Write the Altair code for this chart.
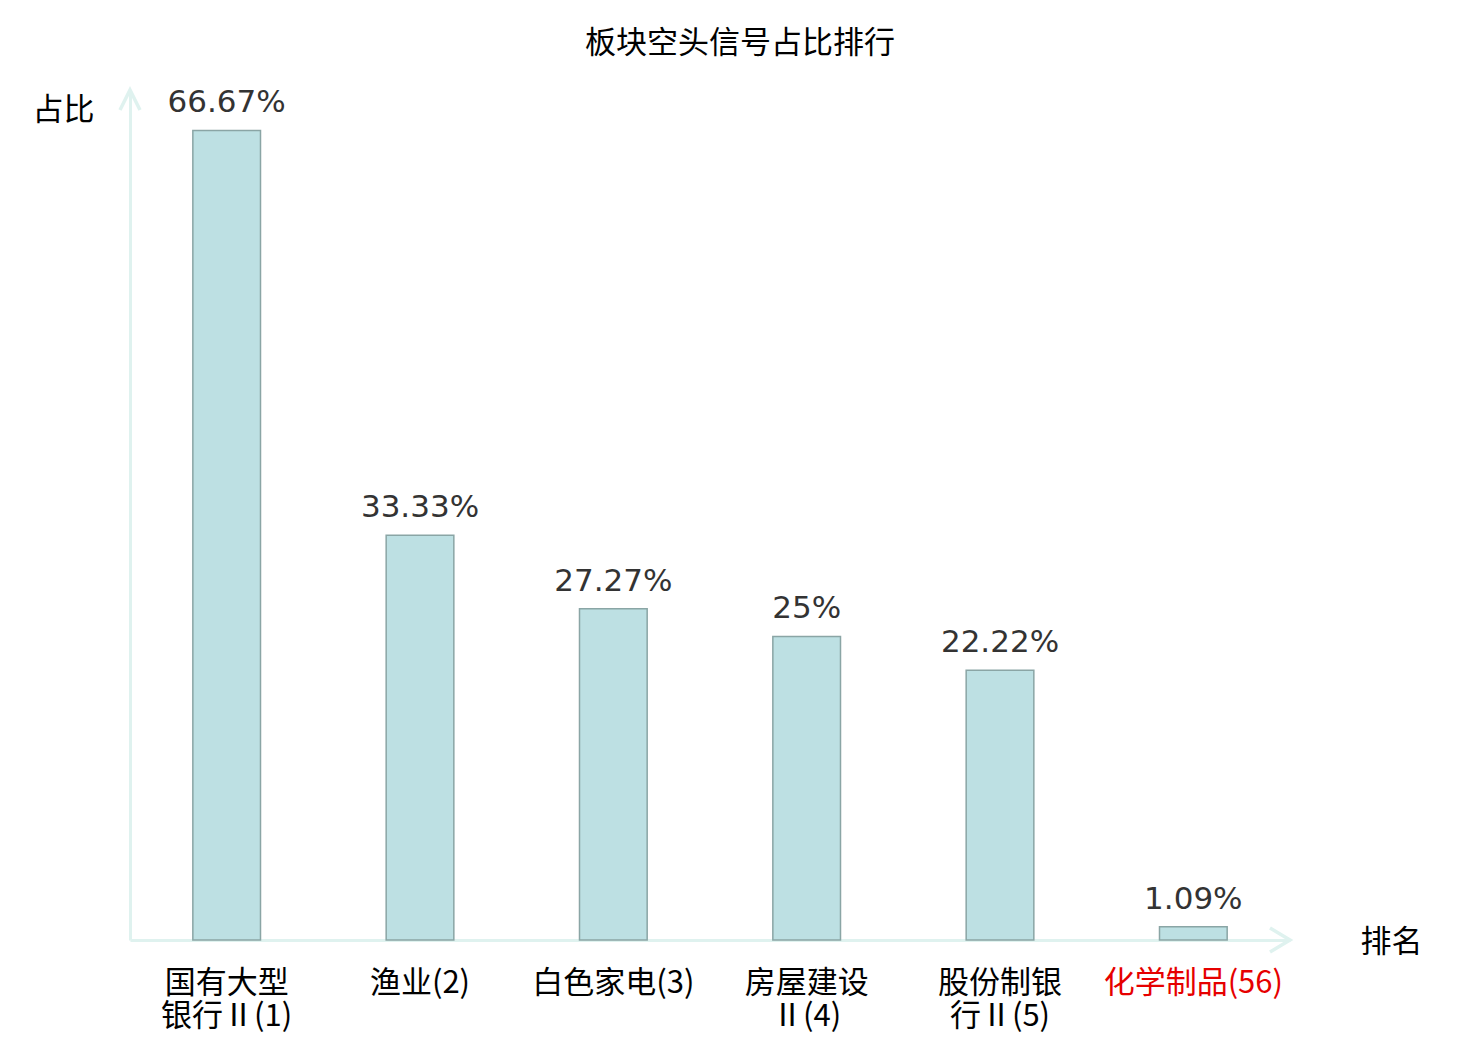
import altair as alt
import pandas as pd

categories = ["国有大型\n银行Ⅱ(1)", "渔业(2)", "白色家电(3)", "房屋建设\nⅡ(4)", "股份制银\n行Ⅱ(5)", "化学制品(56)"]
values = [66.67, 33.33, 27.27, 25.0, 22.22, 1.09]
value_labels = ["66.67%", "33.33%", "27.27%", "25%", "22.22%", "1.09%"]
highlight = "化学制品(56)"

df = pd.DataFrame({"cat": categories, "val": values, "lab": value_labels})

AXIS_COLOR = "#dff2ef"
CJK = "Noto Sans CJK SC"

x_enc = alt.X(
    "cat:N",
    sort=categories,
    scale=alt.Scale(paddingInner=0.65, paddingOuter=0.325),
    axis=alt.Axis(
        title="排名",
        titleFont=CJK,
        titleFontSize=31,
        titleFontWeight="normal",
        titleColor="#000000",
        titleAngle=0,
        titleAlign="center",
        titleBaseline="middle",
        titleX=1261,
        titleY=2,
        labelAngle=0,
        labelFont=CJK,
        labelFontSize=31,
        labelLineHeight=33,
        labelPadding=28,
        labelBaseline="top",
        labelExpr="split(datum.label, '\\n')",
        labelColor=alt.ExprRef(expr=f"datum.value == '{highlight}' ? '#e60000' : '#000000'"),
        ticks=False,
        domainColor=AXIS_COLOR,
        domainWidth=3,
        grid=False,
    ),
)

y_enc = alt.Y(
    "val:Q",
    scale=alt.Scale(domain=[0, 70], nice=False),
    axis=alt.Axis(
        title="占比",
        titleFont=CJK,
        titleFontSize=31,
        titleFontWeight="normal",
        titleColor="#000000",
        titleAngle=0,
        titleAlign="center",
        titleBaseline="middle",
        titleX=-67,
        titleY=20,
        labels=False,
        ticks=False,
        grid=False,
        domainColor=AXIS_COLOR,
        domainWidth=3,
    ),
)

base = alt.Chart(df)

bars = base.mark_bar(fill="#bde0e3", stroke="#8aa5a5", strokeWidth=1.5).encode(x=x_enc, y=y_enc)

text = base.mark_text(
    font="DejaVu Sans", fontSize=31, color="#333333", baseline="alphabetic", dy=-18
).encode(x=alt.X("cat:N", sort=categories), y="val:Q", text="lab:N")

arrow_x = alt.Chart(pd.DataFrame({"a": [0]})).mark_point(
    shape="M-2,-1.2L0,0L-2,1.2", size=400, filled=False, stroke=AXIS_COLOR, strokeWidth=3.5, opacity=1
).encode(x=alt.value(1160), y=alt.value(850))

arrow_y = alt.Chart(pd.DataFrame({"a": [0]})).mark_point(
    shape="M-1,2L0,0L1,2", size=400, filled=False, stroke=AXIS_COLOR, strokeWidth=3.5, opacity=1
).encode(x=alt.value(0), y=alt.value(0))

chart = alt.layer(bars, text, arrow_x, arrow_y).properties(
    width=1160,
    height=850,
    background="white",
    autosize=alt.AutoSizeParams(type="none"),
    padding={"left": 122, "top": 82, "right": 180, "bottom": 100},
    title=alt.TitleParams(
        "板块空头信号占比排行",
        font=CJK,
        fontSize=31,
        fontWeight="normal",
        color="#000000",
        anchor="middle",
        dx=30,
        offset=23,
    ),
).configure_view(strokeWidth=0, stroke="transparent")

chart.save("out.html", embed_options={"renderer": "svg", "actions": False})
